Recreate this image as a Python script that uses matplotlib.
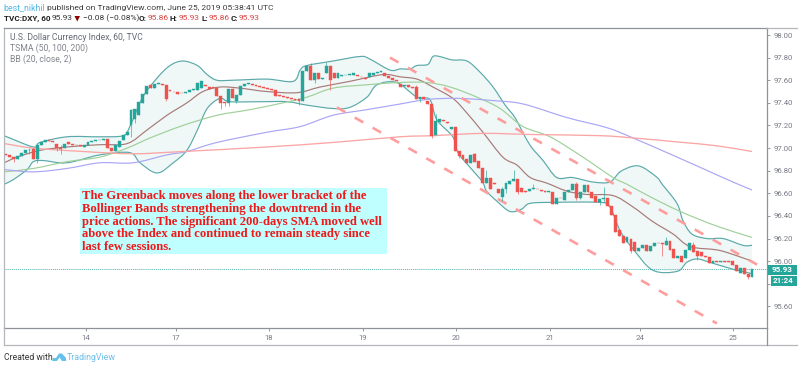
import numpy as np
import matplotlib
matplotlib.use("Agg")
import matplotlib.pyplot as plt
from matplotlib.patches import Rectangle, Polygon, PathPatch
from matplotlib.path import Path

W, H = 800, 368
opens = [96.95,96.94,96.92,96.90,96.93,96.96,96.98,96.99,96.90,97.03,
 97.05,97.07,97.06,97.04,97.00,97.00,97.05,97.04,97.03,97.025,
 97.01,97.03,97.05,97.06,97.07,97.07,97.08,97.00,96.97,97.01,
 97.07,97.12,97.20,97.26,97.29,97.40,97.48,97.56,97.53,97.57,
 97.57,97.56,97.51,97.50,97.50,97.49,97.49,97.50,97.51,97.51,
 97.53,97.56,97.54,97.54,97.53,97.46,97.41,97.40,97.52,97.42,
 97.47,97.55,97.57,97.57,97.56,97.55,97.54,97.53,97.52,97.51,
 97.47,97.46,97.45,97.44,97.43,97.43,97.42,97.68,97.73,97.60,
 97.66,97.61,97.66,97.73,97.66,97.62,97.64,97.645,97.65,97.65,
 97.645,97.63,97.62,97.63,97.65,97.66,97.675,97.66,97.64,97.62,
 97.60,97.57,97.55,97.56,97.54,97.54,97.43,97.45,97.42,97.39,
 97.12,97.23,97.25,97.23,97.17,97.19,96.97,96.94,96.90,96.87,
 96.95,96.89,96.82,96.69,96.74,96.69,96.64,96.57,96.64,96.68,
 96.71,96.73,96.65,96.62,96.62,96.64,96.64,96.63,96.62,96.61,
 96.61,96.51,96.56,96.54,96.61,96.63,96.68,96.56,96.61,96.67,
 96.61,96.58,96.52,96.55,96.56,96.49,96.41,96.28,96.22,96.17,
 96.20,96.17,96.09,96.12,96.14,96.09,96.13,96.165,96.16,96.14,
 96.18,96.11,96.03,96.05,96.03,96.10,96.14,96.09,96.08,96.05,
 96.04,95.98,96.00,95.99,96.00,96.00,96.00,95.97,95.90,95.94,95.89,95.86]
closes = [96.94,96.92,96.90,96.93,96.96,96.98,96.985,96.90,97.03,97.05,
 97.07,97.06,97.05,97.00,96.99,97.04,97.04,97.03,97.025,97.02,
 97.03,97.05,97.06,97.07,97.075,97.08,97.00,96.97,97.03,97.06,
 97.12,97.14,97.34,97.35,97.41,97.48,97.55,97.53,97.57,97.575,
 97.56,97.43,97.505,97.495,97.475,97.485,97.50,97.515,97.52,97.58,
 97.59,97.55,97.52,97.53,97.46,97.40,97.40,97.52,97.44,97.47,
 97.55,97.565,97.58,97.56,97.55,97.54,97.53,97.52,97.51,97.46,
 97.465,97.45,97.44,97.43,97.425,97.42,97.68,97.73,97.60,97.66,
 97.61,97.62,97.73,97.60,97.62,97.66,97.645,97.65,97.655,97.66,
 97.64,97.625,97.61,97.66,97.66,97.67,97.68,97.64,97.62,97.605,
 97.59,97.54,97.56,97.54,97.53,97.43,97.45,97.43,97.39,97.11,
 97.24,97.26,97.24,97.22,97.19,96.97,96.93,96.90,96.87,96.94,
 96.88,96.82,96.69,96.74,96.64,96.685,96.60,96.64,96.69,96.71,
 96.73,96.61,96.61,96.61,96.64,96.65,96.635,96.625,96.615,96.62,
 96.51,96.56,96.555,96.61,96.63,96.68,96.56,96.61,96.67,96.61,
 96.56,96.52,96.55,96.56,96.49,96.41,96.26,96.22,96.16,96.21,
 96.09,96.09,96.12,96.14,96.09,96.13,96.16,96.16,96.155,96.18,
 96.10,96.03,96.05,95.99,96.10,96.16,96.08,96.05,96.05,96.04,
 95.98,96.00,95.99,96.00,95.995,95.995,95.97,95.91,95.94,95.89,95.86,95.93]

high_bars = [6,7,14,32,58,78,82,105,110,120,123,127,130,135,146,153,169,176]
high_vals = [97.00,97.00,97.03,97.35,97.53,97.75,97.76,97.56,97.30,96.96,96.81,96.66,96.81,96.68,96.70,96.66,96.21,96.17]
low_bars = [2,6,8,13,14,32,33,41,55,56,57,59,75,79,83,106,109,116,127,128,131,146,147,152,153,160,168,177,190]
low_vals = [96.88,96.95,96.87,96.97,96.95,97.10,97.22,97.42,97.35,97.37,97.37,97.40,97.38,97.58,97.51,97.41,97.09,96.91,96.53,96.60,96.59,96.54,96.55,96.50,96.52,96.07,96.05,96.01,95.84]

bb_upper_x = [-0.5,7,8.7,15.6,24,30,31.7,35,38.7,42,45.3,49,51.5,54,58,66.8,73.5,75.3,77,83.7,90.6,93,98.3,100.9,103.4,105.2,108,109.3,111,114.2,118,121.4,124.7,127.8,130.3,132.9,134.7,137.5,141,145,150.3,154.6,157.2,160.5,163,166.7,168,171.8,173.3,175.6,179.5,183.6,188.7,191]
bb_upper_y = [97.11,97.01,97.05,97.10,97.10,97.11,97.19,97.45,97.62,97.73,97.77,97.73,97.65,97.60,97.60,97.61,97.59,97.69,97.73,97.77,97.81,97.79,97.69,97.70,97.70,97.73,97.74,97.81,97.81,97.78,97.77,97.67,97.54,97.38,97.27,97.10,97.00,96.89,96.74,96.74,96.70,96.70,96.79,96.84,96.83,96.74,96.68,96.51,96.36,96.24,96.20,96.20,96.14,96.14]
bb_lower_x = [-0.5,1.8,5.4,7,9.5,15.6,24,31.7,34.3,38.7,42.8,46.3,49,51.5,54.8,57.3,65,72,77,83.7,88,92.4,95,100,105.2,108.5,110.3,114.4,115.7,118.8,122,123,125.7,129,132,134,139.3,152,154.6,157.2,160.5,165.6,171.8,174.3,176.9,180.2,186,191]
bb_lower_y = [96.68,96.72,96.81,96.88,96.89,96.87,96.94,96.96,96.87,96.78,96.87,96.98,97.16,97.35,97.44,97.41,97.41,97.41,97.38,97.35,97.36,97.45,97.56,97.58,97.45,97.43,97.25,97.10,96.96,96.83,96.70,96.62,96.53,96.44,96.46,96.51,96.52,96.52,96.48,96.27,96.11,95.92,95.91,95.99,96.02,95.99,95.93,95.89]
bb_basis_x = [-0.5,2.8,8.7,15.6,24,31,36.1,41.2,46.3,50.4,54.8,59.9,66.8,74.5,80.4,88,96.5,100.9,105.2,109.3,114.4,118,122.1,127.2,130.8,134.2,138.5,143.6,148.7,155.4,160.5,165.6,170.8,175.1,182,186.1,191]
bb_basis_y = [96.87,96.92,96.98,97.01,97.03,97.04,97.16,97.29,97.40,97.50,97.54,97.53,97.50,97.49,97.54,97.59,97.65,97.63,97.61,97.54,97.44,97.31,97.14,96.92,96.85,96.74,96.69,96.62,96.59,96.58,96.48,96.35,96.24,96.13,96.10,96.06,96.00]
sma50_x = [-0.5,7,15.6,24,31,36.9,45.3,54,62.5,70.9,77,83.7,92.4,100.9,107.8,113.7,120.6,126.5,132.4,139.3,147.7,155.4,159,164.9,172.6,182,191]
sma50_y = [96.79,96.82,96.88,96.92,97.00,97.09,97.20,97.29,97.34,97.40,97.45,97.53,97.56,97.58,97.58,97.54,97.45,97.35,97.19,97.10,96.92,96.74,96.68,96.57,96.44,96.31,96.21]
sma100_x = [-0.5,7,15.6,24,32.5,41.2,46.3,54,66.8,75.3,83.7,92.4,100.9,107.8,115.5,124.7,132.4,143.6,153.9,160.5,169.2,177.7,186.1,191]
sma100_y = [96.81,96.79,96.82,96.87,96.87,96.94,96.97,97.05,97.14,97.19,97.29,97.34,97.39,97.43,97.44,97.42,97.39,97.27,97.18,97.09,96.96,96.83,96.70,96.63]
sma200_x = [-0.5,7,19.7,32.5,45.3,66.8,83.7,100.9,109.3,122.1,134.9,152,160.5,173.3,182,191]
sma200_y = [97.04,97.00,96.97,96.95,96.97,97.01,97.05,97.10,97.11,97.13,97.12,97.11,97.09,97.05,97.02,96.97]

trend_upper_x, trend_upper_y = [98.3, 192.8], [97.80, 95.96]
trend_lower_x, trend_lower_y = [84.7, 182.0], [97.36, 95.45]

last_price = 95.93
price_ticks = [95.6,95.8,96.0,96.2,96.4,96.6,96.8,97.0,97.2,97.4,97.6,97.8,98.0]
day_positions = [20.5,43.5,67.3,91.4,115.2,139.3,162.3,186.1]
day_labels = ["14","17","18","19","20","21","24","25"]

note_lines = ["The Greenback moves along the lower bracket of the",
              "Bollinger Bands strengthening the downtrend in the",
              "price actions. The significant 200-days SMA moved well",
              "above the Index and continued to remain steady since",
              "last few sessions."]

SANS = "Roboto"
UP, DOWN = "#26a69a", "#ef5350"
GREY = "#787b86"
fig = plt.figure(figsize=(W/100, H/100), dpi=100, facecolor="white")
ax = fig.add_axes([4/W, 1-328/H, (767-4)/W, 300/H])
ax.set_xlim((4-6)/3.906, (767-6)/3.906)
ax.set_ylim(98-(328-35)/113.1, 98+7/113.1)


def curve(xs, ys):
    """Bezier path through the read points (rendering only)."""
    p = np.column_stack([xs, ys])
    d = np.gradient(p, axis=0) / 3.0
    verts = [p[0]]
    codes = [Path.MOVETO]
    for i in range(len(p) - 1):
        verts += [p[i] + d[i], p[i+1] - d[i+1], p[i+1]]
        codes += [Path.CURVE4] * 3
    return Path(verts, codes)


def draw(xs, ys, color, lw):
    ax.add_patch(PathPatch(curve(xs, ys), fc="none", ec=color, lw=lw, zorder=2))


poly = list(zip(bb_upper_x, bb_upper_y)) + list(zip(bb_lower_x[::-1], bb_lower_y[::-1]))
ax.add_patch(Polygon(poly, closed=True, fc="#eff7f7", ec="none", zorder=1))
draw(bb_upper_x, bb_upper_y, "#5aa9a9", 0.85)
draw(bb_lower_x, bb_lower_y, "#5aa9a9", 0.85)
draw(bb_basis_x, bb_basis_y, "#a87a78", 0.85)
draw(sma50_x, sma50_y, "#9fd09a", 0.85)
draw(sma100_x, sma100_y, "#a9a6f5", 0.85)
draw(sma200_x, sma200_y, "#fba5a5", 0.95)

for tx, ty in ((trend_upper_x, trend_upper_y), (trend_lower_x, trend_lower_y)):
    ax.plot(tx, ty, color="#ff9d9d", lw=1.9, linestyle=(0, (3.7, 4.1)),
            dash_capstyle="butt", zorder=2.2, clip_on=False)

o = np.array(opens); c = np.array(closes)
hi = np.maximum(o, c); lo = np.minimum(o, c)
hi[high_bars] = high_vals
lo[low_bars] = low_vals
xs = np.arange(len(o))
cols = [UP if b >= a else DOWN for a, b in zip(o, c)]
ax.vlines(xs, lo, hi, colors=cols, lw=0.6, alpha=0.75, zorder=3)
ax.bar(xs, np.abs(c-o), bottom=np.minimum(o, c), width=0.74, color=cols,
       edgecolor=cols, linewidth=0.3, zorder=3.2)

ax.axhline(last_price, color="#4fb3ad", lw=0.7, ls=(0, (1, 1)), zorder=2.5)

ax.yaxis.tick_right()
ax.set_yticks(price_ticks)
ax.set_yticklabels(["" if abs(v-95.8) < 0.01 else f"{v:.2f}" for v in price_ticks],
                   fontsize=5.6, color=GREY, family=SANS)
ax.set_xticks(day_positions)
ax.set_xticklabels(day_labels, fontsize=5.6, color=GREY, family=SANS)
ax.tick_params(axis="y", length=2.5, width=0.6, color="#8a8a8a", pad=2.5)
ax.tick_params(axis="x", length=2.2, width=0.6, color="#8a8a8a", pad=2.5)
for s in ax.spines.values():
    s.set_color("#8f9299"); s.set_linewidth(0.9)
ax.spines["left"].set_color("#b5b7bc")

ov = fig.add_axes([0, 0, 1, 1], zorder=5)
ov.set_xlim(0, W); ov.set_ylim(H, 0); ov.axis("off"); ov.patch.set_alpha(0)
ov.plot([4, 4], [328, 345], color="#b5b7bc", lw=0.9)
ov.plot([4, 797], [345, 345], color="#b5b7bc", lw=0.9)
ov.plot([767, 767], [328, 345], color="#8f9299", lw=0.9)
ov.plot([767, 797], [28, 28], color="#b5b7bc", lw=0.9)


def t(x, y, s, color="#333333", size=6.0, weight="normal", family=SANS, **kw):
    return ov.text(x, y, s, color=color, fontsize=size, fontweight=weight,
                   family=family, va="center", ha="left", **kw)


t(3, 8, "best_nikhil", color="#4db8e8", size=6.3)
t(47, 8, "published on TradingView.com, June 25, 2019 05:38:41 UTC", color="#3c3c3c", size=6.1)
t(4, 18.5, "TVC:DXY, 60", color="#222222", size=5.9, weight="bold")
t(52, 18.5, "95.93", color="#333333", size=6.0)
ov.add_patch(Polygon([(74.5, 16), (80, 16), (77.25, 21.5)], closed=True, fc="#8b0000", ec="none"))
t(83, 18.5, "\u22120.08 (\u22120.08%)", color="#333333", size=6.0)
for x, s in ((139, "O:"), (170, "H:"), (201, "L:"), (231, "C:")):
    t(x, 18.5, s, color="#222222", size=5.9, weight="bold")
for x, s in ((148, "95.86"), (179, "95.93"), (209, "95.86"), (239, "95.93")):
    t(x, 18.5, s, color="#d9413e", size=6.0)

t(10, 38, "U.S. Dollar Currency Index, 60, TVC", color="#666a73", size=6.2)
t(10, 48.5, "TSMA (50, 100, 200)", color="#80848c", size=6.2)
t(10, 59.5, "BB (20, close, 2)", color="#80848c", size=6.2)

ov.add_patch(Rectangle((80, 188), 307, 66, fc="#c0ffff", ec="none"))
for y, s in zip((196, 209, 221.5, 234, 247), note_lines):
    t(82.5, y, s, color="#f01818", size=9.05, weight="bold", family="Liberation Serif")

ov.add_patch(Rectangle((767.5, 264.5), 29.5, 10, fc=UP, ec="none"))
ov.add_patch(Rectangle((770.5, 275.5), 26.5, 10, fc=UP, ec="none"))
ov.text(782.5, 269.6, "95.93", color="white", fontsize=5.8, fontweight="bold", family=SANS, ha="center", va="center")
ov.text(783.5, 280.6, "21:24", color="white", fontsize=5.8, fontweight="bold", family=SANS, ha="center", va="center")

t(4, 357, "Created with", color="#333333", size=6.2)
ov.add_patch(Polygon([(52, 361), (53, 358), (56, 358), (59, 353.5), (62, 353.5), (66, 358), (66, 361), (62, 361), (59.5, 357.5), (57, 361)],
                     closed=True, fc="#63c1ea", ec="none"))
t(66.5, 357, "TradingView", color="#6cc0ea", size=6.4)

fig.savefig("out.png", dpi=100)
